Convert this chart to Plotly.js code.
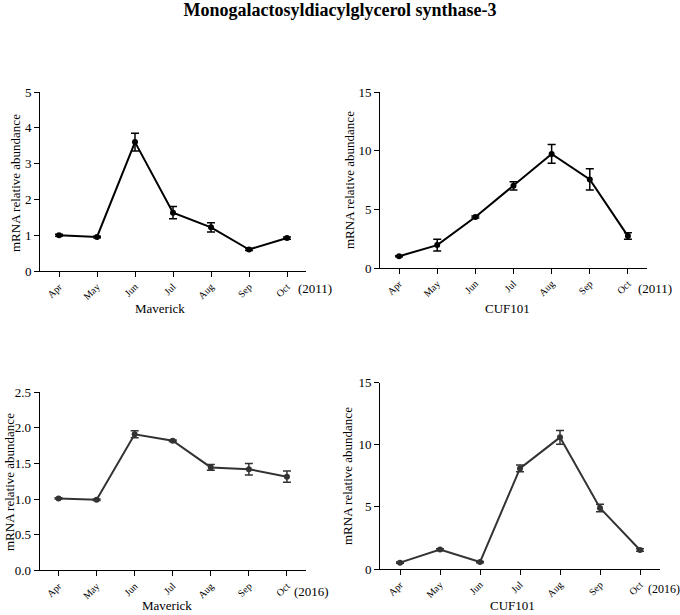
<!DOCTYPE html>
<html>
<head>
<meta charset="utf-8">
<script src="https://cdn.plot.ly/plotly-3.0.1.min.js"></script>
<style>html,body{margin:0;padding:0;background:#fff;}#chart{width:680px;height:615px;}</style>
</head>
<body>
<div id="chart"></div>
<script>
const months = ['Apr','May','Jun','Jul','Aug','Sep','Oct'];

const mav2011 = [1.0, 0.95, 3.6, 1.63, 1.22, 0.6, 0.92];
const mav2011Err = [0.03, 0.02, 0.25, 0.17, 0.13, 0.03, 0.03];

const cuf2011 = [1.0, 1.95, 4.35, 7.0, 9.72, 7.55, 2.72];
const cuf2011Err = [0.05, 0.5, 0.08, 0.35, 0.8, 0.9, 0.28];

const mav2016 = [1.01, 0.99, 1.91, 1.82, 1.445, 1.42, 1.315];
const mav2016Err = [0.01, 0.01, 0.05, 0.01, 0.04, 0.08, 0.08];

const cuf2016 = [0.51, 1.56, 0.56, 8.1, 10.6, 4.91, 1.53];
const cuf2016Err = [0.05, 0.08, 0.05, 0.27, 0.55, 0.3, 0.1];

const FONT = 'Liberation Serif, Times New Roman, serif';

function trace(y, err, xa, ya, color) {
  return {
    x: months, y: y, xaxis: xa, yaxis: ya, type: 'scatter', mode: 'lines+markers',
    line: {color: color, width: 2},
    marker: {color: color, size: 6},
    error_y: {type: 'data', array: err, visible: true, color: color, thickness: 1.5, width: 4},
    showlegend: false, hoverinfo: 'skip'
  };
}

const data = [
  trace(mav2011, mav2011Err, 'x', 'y', '#000'),
  trace(cuf2011, cuf2011Err, 'x2', 'y2', '#000'),
  trace(mav2016, mav2016Err, 'x3', 'y3', '#333'),
  trace(cuf2016, cuf2016Err, 'x4', 'y4', '#333')
];

function xaxis(domain, anchor) {
  return {
    domain: domain, anchor: anchor, type: 'category', range: [-0.5, 6.5],
    showline: true, linecolor: '#000', linewidth: 1, showgrid: false, zeroline: false,
    ticks: 'outside', ticklen: 5, tickcolor: '#000', tickwidth: 1,
    tickangle: -45, tickfont: {family: FONT, size: 10, color: '#000'}, fixedrange: true
  };
}
function yaxis(domain, anchor, range, dtick, fmt) {
  return {
    domain: domain, anchor: anchor, range: range, dtick: dtick, tick0: 0, tickformat: fmt,
    showline: true, linecolor: '#000', linewidth: 1, showgrid: false, zeroline: false,
    ticks: 'outside', ticklen: 5, tickcolor: '#000', tickwidth: 1,
    tickfont: {family: FONT, size: 13, color: '#000'}, fixedrange: true
  };
}

function ann(text, x, y, size, angle) {
  return {text: text, x: x / 680, y: 1 - y / 615, xref: 'paper', yref: 'paper',
    showarrow: false, xanchor: 'center', yanchor: 'middle', textangle: angle || 0,
    font: {family: FONT, size: size, color: '#000'}};
}

const layout = {
  width: 680, height: 615,
  margin: {l: 0, r: 0, t: 0, b: 0},
  paper_bgcolor: '#fff', plot_bgcolor: '#fff',
  title: {text: '<b>Monogalactosyldiacylglycerol synthase-3</b>', x: 0.5, xanchor: 'center',
    y: 1 - 10 / 615, yanchor: 'middle', font: {family: FONT, size: 18, color: '#000'}},
  xaxis: xaxis([40 / 680, 306 / 680], 'y'),
  yaxis: yaxis([344 / 615, 523 / 615], 'x', [0, 5], 1, 'd'),
  xaxis2: xaxis([380 / 680, 647 / 680], 'y2'),
  yaxis2: yaxis([347 / 615, 523 / 615], 'x2', [0, 15], 5, 'd'),
  xaxis3: xaxis([39.5 / 680, 306 / 680], 'y3'),
  yaxis3: yaxis([44.7 / 615, 222.7 / 615], 'x3', [0, 2.5], 0.5, '.1f'),
  xaxis4: xaxis([380 / 680, 660 / 680], 'y4'),
  yaxis4: yaxis([46 / 615, 232.3 / 615], 'x4', [0, 15], 5, 'd'),
  annotations: [
    ann('(2011)', 315, 288, 13),
    ann('(2011)', 655, 288, 13),
    ann('(2016)', 311, 591, 13),
    ann('(2016)', 663.5, 589, 12),
    ann('Maverick', 160, 308, 13),
    ann('CUF101', 507, 308, 13),
    ann('Maverick', 167, 605, 13),
    ann('CUF101', 512, 605, 13),
    ann('mRNA relative abundance', 15, 183, 13, -90),
    ann('mRNA relative abundance', 349, 180, 13, -90),
    ann('mRNA relative abundance', 9, 482, 13, -90),
    ann('mRNA relative abundance', 348, 476, 13, -90)
  ]
};

Plotly.newPlot('chart', data, layout, {displayModeBar: false, staticPlot: true});
</script>
</body>
</html>
